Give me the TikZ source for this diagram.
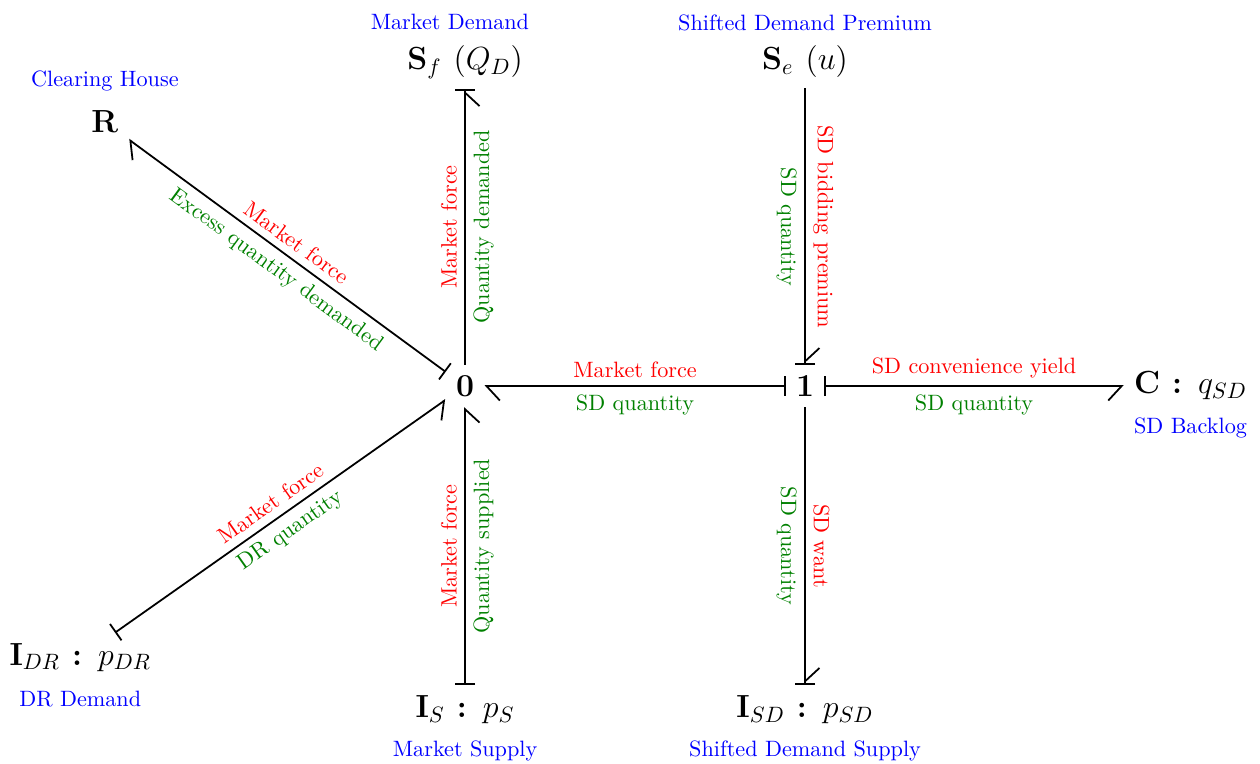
\documentclass[tikz,border=0pt]{standalone}
\usepackage{amsmath,amssymb}
\usepackage{tikz}
\usetikzlibrary{positioning,arrows.meta}
\usepackage{xcolor}

\begin{document}
\begin{tikzpicture}[
  elem/.style={font=\Large\bfseries, inner sep=4.5pt},
  role/.style={font=\normalsize, text=blue, inner sep=2pt},
  effort/.style={font=\normalsize, text=red, sloped, above},
  flow/.style={font=\normalsize, text=green!50!black, sloped, below},
  startL/.style={thick, {Bar[width=9pt]}-{Straight Barb[left, length=6pt, width=13pt]}},
  startR/.style={thick, {Bar[width=9pt]}-{Straight Barb[right, length=6pt, width=13pt]}},
  endL/.style={thick, -{Straight Barb[left, length=6pt, width=13pt, sep=0pt]Bar[width=9pt]}},
  endR/.style={thick, -{Straight Barb[right, length=6pt, width=13pt, sep=0pt]Bar[width=9pt]}}
]
\useasboundingbox (0,0) rectangle (19.94,-12.09);

% --- Junctions ---
\node[elem] (zero) at (7.36,-6.11) {0};
\node[elem] (one) at (12.74,-6.11) {1};

% --- Elements ---
\node[elem] (res) at (1.66,-1.93) {R};
\node[elem] (srcf) at (7.36,-0.98) {$\mathbf{S}_f$ $(Q_D)$};
\node[elem] (srce) at (12.74,-0.98) {$\mathbf{S}_e$ $(u)$};
\node[elem] (cap) at (18.84,-6.11) {$\mathbf{C}$ : $q_{SD}$};
\node[elem] (indr) at (1.27,-10.40) {$\mathbf{I}_{DR}$ : $p_{DR}$};
\node[elem] (ins) at (7.36,-11.23) {$\mathbf{I}_{S}$ : $p_{S}$};
\node[elem] (insd) at (12.74,-11.23) {$\mathbf{I}_{SD}$ : $p_{SD}$};

% --- Roles ---
\node[role, above=2pt of res] {Clearing House};
\node[role, above=0pt of srcf, xshift=-0.24cm] {Market Demand};
\node[role, above=0pt of srce] {Shifted Demand Premium};
\node[role, below=1pt of cap] {SD Backlog};
\node[role, below=2pt of indr] {DR Demand};
\node[role, below=1pt of ins] {Market Supply};
\node[role, below=1pt of insd] {Shifted Demand Supply};

% --- Bonds ---
\draw[startL] (zero) -- node[effort] {Market force}
  node[flow] {Excess quantity demanded} (res);
\draw[startR] (indr) -- node[effort] {Market force}
  node[flow] {DR quantity} (zero);
\draw[endR] (zero) -- node[effort] {Market force}
  node[flow] {Quantity demanded} (srcf);
\draw[startR] (ins) -- node[effort] {Market force}
  node[flow] {Quantity supplied} (zero);
\draw[startL] (one) -- node[effort] {Market force}
  node[flow] {SD quantity} (zero);
\draw[endL] (srce) -- node[effort] {SD bidding premium}
  node[flow] {SD quantity} (one);
\draw[startR] (one) -- node[effort] {SD convenience yield}
  node[flow] {SD quantity} (cap);
\draw[endL] (one) -- node[effort] {SD want}
  node[flow] {SD quantity} (insd);

\end{tikzpicture}
\end{document}
